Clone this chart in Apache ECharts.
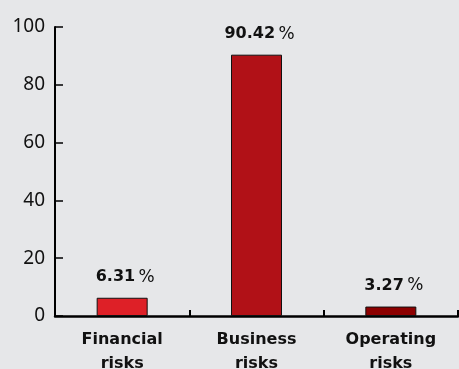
<!DOCTYPE html>
<html>
<head>
<meta charset="utf-8">
<style>
html,body{margin:0;padding:0;background:#e6e7e9;}
#chart{width:459px;height:369px;}
</style>
<script src="https://cdn.jsdelivr.net/npm/echarts@6/dist/echarts.min.js"></script>
</head>
<body>
<div id="chart"></div>
<script>
// Share of risk categories, in percent
const categories = ['Financial\nrisks', 'Business\nrisks', 'Operating\nrisks'];
const values = [6.31, 90.42, 3.27];
const barColors = ['#de2027', '#b11117', '#8c0000'];
const yTicks = [0, 20, 40, 60, 80, 100];

const chart = echarts.init(document.getElementById('chart'));
chart.setOption({
  backgroundColor: '#e6e7e9',
  animation: false,
  grid: { left: 55, right: 1, top: 27, bottom: 53, containLabel: false, outerBoundsMode: 'none' },
  xAxis: {
    type: 'category',
    data: categories,
    axisLine: { lineStyle: { color: '#000', width: 2.5 } },
    axisTick: { show: true, inside: true, length: 6, alignWithLabel: false, lineStyle: { color: '#000', width: 2 } },
    axisLabel: {
      color: '#111', fontWeight: 'bold', fontSize: 16, lineHeight: 24,
      fontFamily: 'DejaVu Sans', margin: 12
    }
  },
  yAxis: {
    type: 'value',
    min: yTicks[0], max: yTicks[yTicks.length - 1], interval: 20,
    splitLine: { show: false },
    axisLine: { show: true, lineStyle: { color: '#000', width: 2 } },
    axisTick: { show: true, inside: true, length: 8, lineStyle: { color: '#000', width: 1.5 } },
    axisLabel: { color: '#111', fontSize: 19, fontFamily: 'Noto Sans', margin: 10 }
  },
  series: [{
    type: 'bar',
    barWidth: 51,
    data: values.map((v, i) => ({ value: v, itemStyle: { color: barColors[i] } })),
    itemStyle: { borderColor: '#111', borderWidth: 1 },
    label: {
      show: true, position: 'top', distance: 12, offset: [3, 0],
      formatter: p => '{n|' + p.value.toFixed(2) + '} {p|%}',
      rich: {
        n: { fontWeight: 'bold', fontSize: 16, color: '#111', fontFamily: 'DejaVu Sans' },
        p: { fontSize: 17, color: '#111', fontFamily: 'DejaVu Sans' }
      }
    }
  }]
});
</script>
</body>
</html>
